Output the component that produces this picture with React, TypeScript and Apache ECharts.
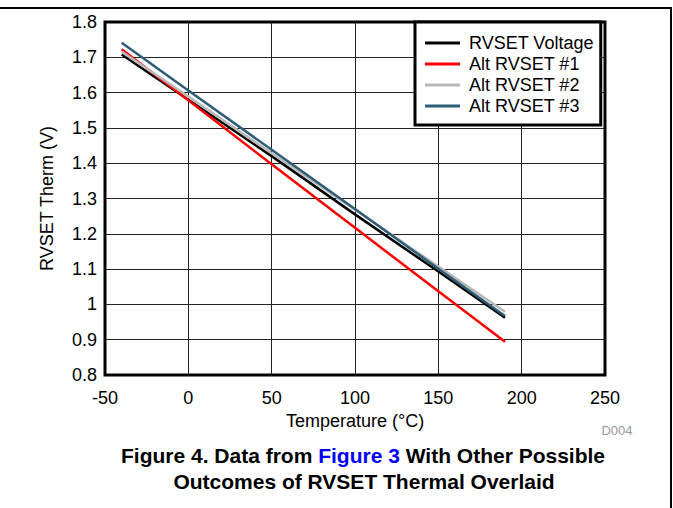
import React, { useEffect, useRef } from "react";
import * as echarts from "echarts";

const temps = [-40, 0, 50, 100, 150, 190];
const rvsetVoltage = [1.708, 1.58, 1.42, 1.255, 1.093, 0.962];
const altRvset1 = [1.723, 1.578, 1.397, 1.217, 1.037, 0.894];
const altRvset2 = [1.716, 1.589, 1.428, 1.268, 1.107, 0.979];
const altRvset3 = [1.741, 1.606, 1.438, 1.27, 1.101, 0.967];

const seriesNames = ["RVSET Voltage", "Alt RVSET #1", "Alt RVSET #2", "Alt RVSET #3"];
const seriesValues = [rvsetVoltage, altRvset1, altRvset2, altRvset3];
const seriesColors = ["#000000", "#ff0000", "#b8b8b8", "#2e5d77"];

const FONT = "'Liberation Sans', Arial, sans-serif";

export default function App() {
  const ref = useRef<HTMLDivElement>(null);
  useEffect(() => {
    if (!ref.current) return;
    const chart = echarts.init(ref.current, undefined, { renderer: "svg" });
    chart.setOption({
      animation: false,
      backgroundColor: "#ffffff",
      grid: {
        left: 105,
        top: 22,
        width: 500,
        height: 353,
        show: true,
        borderColor: "#000",
        borderWidth: 3,
        backgroundColor: "transparent",
        z: 3,
      },
      legend: {
        orient: "vertical",
        left: 415,
        top: 22,
        padding: [12, 7, 10, 10],
        itemGap: 3,
        itemWidth: 35,
        itemHeight: 3,
        icon: "rect",
        backgroundColor: "#fff",
        borderColor: "#000",
        borderWidth: 3,
        borderRadius: 0,
        textStyle: {
          fontFamily: FONT,
          fontSize: 18,
          color: "#000",
          lineHeight: 18,
          padding: [0, 0, 0, 4],
        },
        data: seriesNames,
      },
      xAxis: {
        type: "value",
        min: -50,
        max: 250,
        interval: 50,
        name: "Temperature (°C)",
        nameLocation: "middle",
        nameGap: 34,
        nameTextStyle: { fontFamily: FONT, fontSize: 18, color: "#000" },
        axisLine: { show: false },
        axisTick: { show: false },
        axisLabel: { fontFamily: FONT, fontSize: 18, color: "#000", margin: 14 },
        splitLine: { show: true, lineStyle: { color: "#222", width: 1 } },
      },
      yAxis: {
        type: "value",
        min: 0.8,
        max: 1.8,
        interval: 0.1,
        name: "RVSET Therm (V)",
        nameLocation: "middle",
        nameGap: 49,
        nameRotate: 90,
        nameTextStyle: { fontFamily: FONT, fontSize: 18, color: "#000" },
        axisLine: { show: false },
        axisTick: { show: false },
        axisLabel: {
          fontFamily: FONT,
          fontSize: 18,
          color: "#000",
          margin: 8,
          formatter: (v: number) => String(+v.toFixed(1)),
        },
        splitLine: { show: true, lineStyle: { color: "#222", width: 1 } },
      },
      series: seriesNames.map((name, i) => ({
        name,
        type: "line",
        data: temps.map((t, j) => [t, seriesValues[i][j]]),
        showSymbol: false,
        symbol: "none",
        lineStyle: { color: seriesColors[i], width: 2.5 },
        itemStyle: { color: seriesColors[i] },
        z: 2 + i,
      })),
      graphic: [
        {
          type: "line",
          shape: { x1: 0, y1: 8, x2: 672, y2: 8 },
          style: { stroke: "#000", lineWidth: 2 },
        },
        {
          type: "line",
          shape: { x1: 671, y1: 8, x2: 671, y2: 508 },
          style: { stroke: "#000", lineWidth: 2 },
        },
        {
          type: "text",
          x: 617,
          y: 430,
          style: {
            text: "D004",
            fontFamily: FONT,
            fontSize: 13,
            fill: "#999",
            align: "center",
            verticalAlign: "middle",
          },
        },
        {
          type: "text",
          x: 363,
          y: 455,
          style: {
            text: "{b|Figure 4. Data from }{l|Figure 3}{b| With Other Possible}",
            align: "center",
            verticalAlign: "middle",
            rich: {
              b: { fontFamily: FONT, fontSize: 21, fontWeight: "bold", fill: "#000" },
              l: { fontFamily: FONT, fontSize: 21, fontWeight: "bold", fill: "#0000ff" },
            },
          },
        },
        {
          type: "text",
          x: 364,
          y: 481,
          style: {
            text: "Outcomes of RVSET Thermal Overlaid",
            fontFamily: FONT,
            fontSize: 21,
            fontWeight: "bold",
            fill: "#000",
            align: "center",
            verticalAlign: "middle",
          },
        },
      ],
    });
    return () => chart.dispose();
  }, []);
  return (
    <div
      ref={ref}
      style={{ position: "fixed", left: 0, top: 0, width: 673, height: 508 }}
    />
  );
}
